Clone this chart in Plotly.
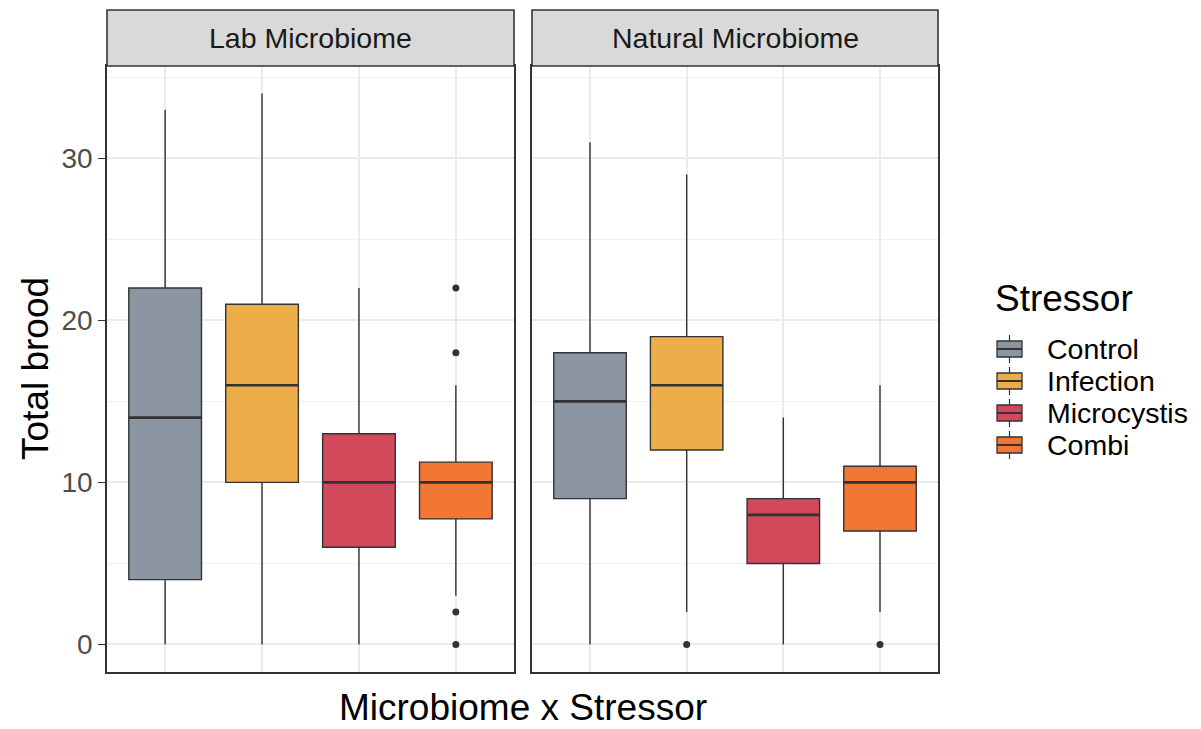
import plotly.graph_objects as go

# ---- data ----
panels = ["Lab Microbiome", "Natural Microbiome"]
stressors = ["Control", "Infection", "Microcystis", "Combi"]
colors = ["#8C95A2", "#EDAE49", "#D1495B", "#F37734"]

# per panel: lists in stressor order
lower = [[0, 0, 0, 3], [0, 2, 0, 2]]
q1 = [[4, 10, 6, 7.75], [9, 12, 5, 7]]
median = [[14, 16, 10, 10], [15, 16, 8, 10]]
q3 = [[22, 21, 13, 11.25], [18, 19, 9, 11]]
upper = [[33, 34, 22, 16], [31, 29, 14, 16]]
outliers = [
    [[], [], [], [22, 18, 2, 0]],
    [[], [0], [], [0]],
]

FONT = "Arial, 'Liberation Sans', sans-serif"
W, H = 1201, 729
BOXW = 0.75

# layout geometry in pixels
px_x = [(107, 514), (532, 938)]
plot_top, plot_bot = 66, 672
strip_top = 10

def fx(p):
    return p / W

def fy(p):
    return 1 - p / H

fig = go.Figure()

for pi in range(2):
    xa = "x" if pi == 0 else "x2"
    ya = "y" if pi == 0 else "y2"
    for si, s in enumerate(stressors):
        xpos = si + 1
        fig.add_trace(go.Box(
            x=[xpos], q1=[q1[pi][si]], median=[median[pi][si]], q3=[q3[pi][si]],
            lowerfence=[lower[pi][si]], upperfence=[upper[pi][si]],
            name=s, legendgroup=s, showlegend=False,
            fillcolor=colors[si], line=dict(color="#333333", width=1.4),
            whiskerwidth=0, width=BOXW, boxpoints=False,
            xaxis=xa, yaxis=ya, hoverinfo="skip",
        ))
        # thicker median line (ggplot style)
        fig.add_trace(go.Scatter(
            x=[xpos - BOXW / 2, xpos + BOXW / 2], y=[median[pi][si]] * 2,
            mode="lines", line=dict(color="#333333", width=2.6),
            showlegend=False, xaxis=xa, yaxis=ya, hoverinfo="skip",
        ))
        if outliers[pi][si]:
            fig.add_trace(go.Scatter(
                x=[xpos] * len(outliers[pi][si]), y=outliers[pi][si],
                mode="markers", marker=dict(color="#333333", size=7),
                showlegend=False, xaxis=xa, yaxis=ya, hoverinfo="skip",
            ))

xcommon = dict(range=[0.4, 4.6], tickvals=[1, 2, 3, 4], showticklabels=False,
               ticks="", showgrid=True, gridcolor="#EBEBEB", gridwidth=1.5,
               showline=True, mirror=True, linecolor="#333333", linewidth=1.6,
               zeroline=False, fixedrange=True)
ycommon = dict(range=[-1.7, 35.7], tickvals=[0, 10, 20, 30], showgrid=True,
               gridcolor="#EBEBEB", gridwidth=1.5,
               minor=dict(tickvals=[5, 15, 25, 35], showgrid=True, gridcolor="#F0F0F0", gridwidth=1, ticklen=0),
               showline=True, mirror=True, linecolor="#333333", linewidth=1.6,
               zeroline=False, fixedrange=True)

ydom = [fy(plot_bot), fy(plot_top)]
fig.update_layout(
    xaxis=dict(domain=[fx(px_x[0][0]), fx(px_x[0][1])], anchor="y", **xcommon),
    xaxis2=dict(domain=[fx(px_x[1][0]), fx(px_x[1][1])], anchor="y2", **xcommon),
    yaxis=dict(domain=ydom, anchor="x", ticks="outside", ticklen=7, tickwidth=1.4,
               tickcolor="#333333", tickfont=dict(size=28, color="#4D4D4D", family=FONT),
               **ycommon),
    yaxis2=dict(domain=ydom, anchor="x2", showticklabels=False, ticks="", matches="y",
                **ycommon),
)

# facet strips
for pi in range(2):
    x0, x1 = px_x[pi]
    fig.add_shape(type="rect", xref="paper", yref="paper",
                  x0=fx(x0), x1=fx(x1), y0=fy(plot_top), y1=fy(strip_top),
                  fillcolor="#D9D9D9", line=dict(color="#333333", width=1.6), layer="above")
    fig.add_annotation(text=panels[pi], xref="paper", yref="paper",
                       x=fx((x0 + x1) / 2), y=fy((plot_top + strip_top) / 2),
                       showarrow=False, font=dict(size=28.5, color="#1A1A1A", family=FONT),
                       xanchor="center", yanchor="middle")

# axis titles
fig.add_annotation(text="Total brood", xref="paper", yref="paper",
                   x=fx(35), y=fy((plot_top + plot_bot) / 2), textangle=-90,
                   showarrow=False, font=dict(size=37, color="black", family=FONT),
                   xanchor="center", yanchor="middle")
fig.add_annotation(text="Microbiome x Stressor", xref="paper", yref="paper",
                   x=fx((px_x[0][0] + px_x[1][1]) / 2), y=fy(707),
                   showarrow=False, font=dict(size=37, color="black", family=FONT),
                   xanchor="center", yanchor="middle")

# legend (ggplot-style, drawn manually)
fig.add_annotation(text="Stressor", xref="paper", yref="paper",
                   x=fx(993), y=fy(298), showarrow=False,
                   font=dict(size=37, color="black", family=FONT),
                   xanchor="left", yanchor="middle")
key_x0, key_x1 = 997, 1022
key_h = 16
for si, s in enumerate(stressors):
    cy = 349 + 32 * si
    kx = (key_x0 + key_x1) / 2
    fig.add_shape(type="line", xref="paper", yref="paper",
                  x0=fx(kx), x1=fx(kx), y0=fy(cy - 14), y1=fy(cy + 14),
                  line=dict(color="#333333", width=1.2))
    fig.add_shape(type="rect", xref="paper", yref="paper",
                  x0=fx(key_x0), x1=fx(key_x1), y0=fy(cy + key_h / 2), y1=fy(cy - key_h / 2),
                  fillcolor=colors[si], line=dict(color="#333333", width=1.3))
    fig.add_shape(type="line", xref="paper", yref="paper",
                  x0=fx(key_x0), x1=fx(key_x1), y0=fy(cy), y1=fy(cy),
                  line=dict(color="#333333", width=2))
    fig.add_annotation(text=s, xref="paper", yref="paper",
                       x=fx(1045), y=fy(cy), showarrow=False,
                       font=dict(size=28.5, color="black", family=FONT),
                       xanchor="left", yanchor="middle")

fig.update_layout(
    width=W, height=H, margin=dict(l=0, r=0, t=0, b=0),
    paper_bgcolor="white", plot_bgcolor="white",
    showlegend=False,
    font=dict(family=FONT),
)

fig.write_html("out.html")
